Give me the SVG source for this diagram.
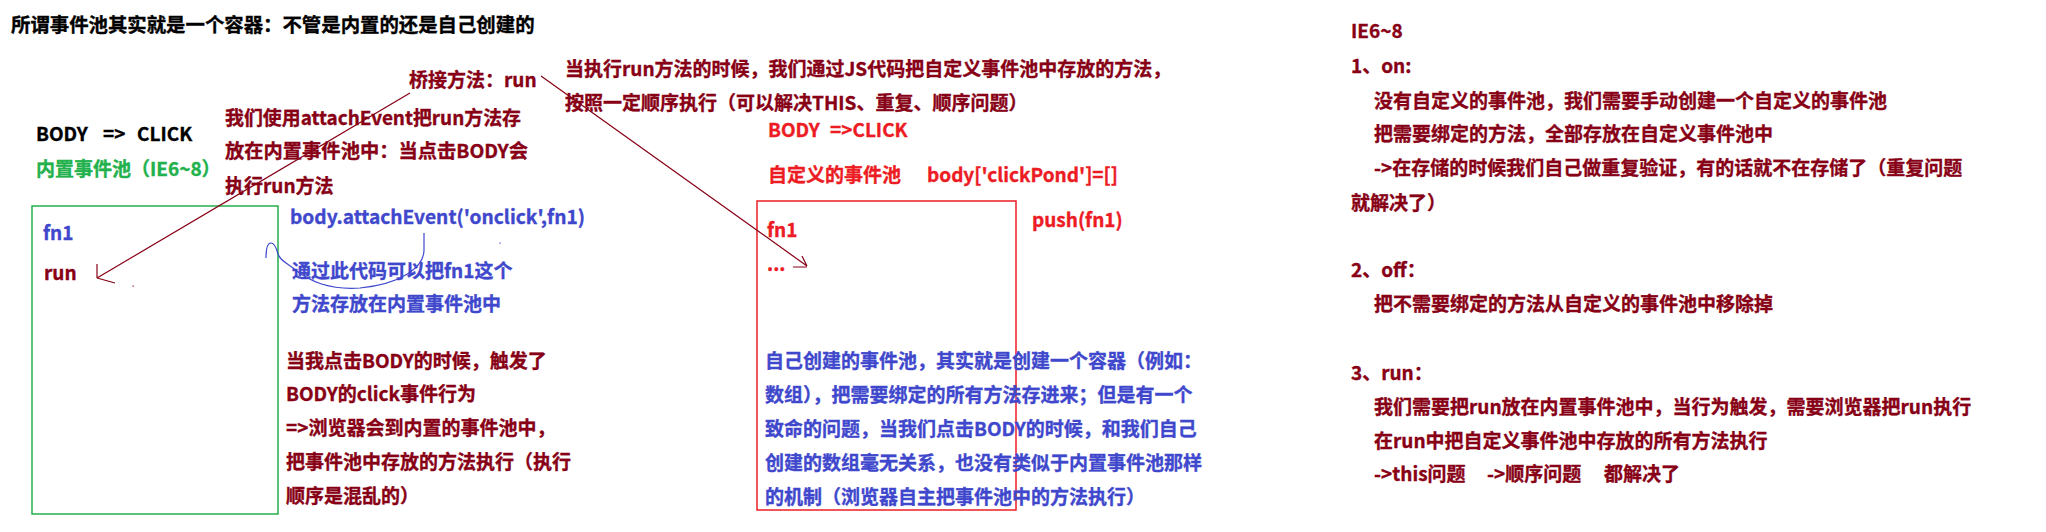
<svg xmlns="http://www.w3.org/2000/svg" width="2046" height="532" viewBox="0 0 2046 532">
<style>
text{font-family:"Noto Sans CJK SC","Noto Sans",sans-serif;font-weight:700;font-size:19px;stroke-width:0.35px}
text.k{fill:#000;stroke:#000}text.dr{fill:#880015;stroke:#880015}text.r{fill:#ed1c24;stroke:#ed1c24}text.b{fill:#3f48cc;stroke:#3f48cc}text.g{fill:#22b14c;stroke:#22b14c}
.ln{fill:none;stroke:#880015;stroke-width:1.2}
.bl{fill:none;stroke:#3f48cc;stroke-width:1.2}
.box{fill:none;stroke-width:1.5}
</style>
<rect width="2046" height="532" fill="#fff"/>

<g id="title"><text class="k" x="11" y="32" style="font-size:19.4px">所谓事件池其实就是一个容器：不管是内置的还是自己创建的</text></g>

<g id="builtin-label">
<text class="k" x="36" y="141"><tspan x="36">BODY</tspan><tspan x="103">=&gt;</tspan><tspan x="137">CLICK</tspan></text>
<text class="g" x="36" y="176">内置事件池（IE6~8）</text>
</g>

<g id="bridge"><text class="dr" x="409" y="87">桥接方法：run</text></g>

<g id="attach-note">
<text class="dr" x="225" y="125" textLength="296" lengthAdjust="spacingAndGlyphs">我们使用attachEvent把run方法存</text>
<text class="dr" x="225" y="158" textLength="303" lengthAdjust="spacingAndGlyphs">放在内置事件池中：当点击BODY会</text>
<text class="dr" x="225" y="193">执行run方法</text>
</g>

<g id="builtin-pool">
<rect class="box" x="32" y="206" width="246" height="308" stroke="#22b14c"/>
<text class="b" x="43" y="240">fn1</text>
<text class="dr" x="44" y="280">run</text>
</g>

<g id="attach-code">
<text class="b" x="290" y="224" textLength="295" lengthAdjust="spacingAndGlyphs">body.attachEvent('onclick',fn1)</text>
<text class="b" x="292" y="278">通过此代码可以把fn1这个</text>
<text class="b" x="292" y="311">方法存放在内置事件池中</text>
</g>

<g id="click-note">
<text class="dr" x="286" y="368">当我点击BODY的时候，触发了</text>
<text class="dr" x="286" y="401">BODY的click事件行为</text>
<text class="dr" x="286" y="435">=&gt;浏览器会到内置的事件池中，</text>
<text class="dr" x="286" y="469">把事件池中存放的方法执行（执行</text>
<text class="dr" x="286" y="503">顺序是混乱的）</text>
</g>

<g id="run-note">
<text class="dr" x="565" y="76">当执行run方法的时候，我们通过JS代码把自定义事件池中存放的方法，</text>
<text class="dr" x="565" y="110">按照一定顺序执行（可以解决THIS、重复、顺序问题）</text>
</g>

<g id="custom-label">
<text class="r" x="768" y="137"><tspan x="768">BODY</tspan><tspan x="830">=&gt;CLICK</tspan></text>
<text class="r" x="768" y="182"><tspan x="768">自定义的事件池</tspan><tspan x="927">body['clickPond']=[]</tspan></text>
<text class="r" x="1032" y="227">push(fn1)</text>
</g>

<g id="custom-pool">
<rect class="box" x="757" y="201" width="259" height="309" stroke="#ed1c24"/>
<text class="r" x="767" y="237">fn1</text>
<text class="r" x="767" y="271">...</text>
</g>

<g id="custom-note">
<text class="b" x="765" y="368">自己创建的事件池，其实就是创建一个容器（例如：</text>
<text class="b" x="765" y="402">数组），把需要绑定的所有方法存进来；但是有一个</text>
<text class="b" x="765" y="436">致命的问题，当我们点击BODY的时候，和我们自己</text>
<text class="b" x="765" y="470">创建的数组毫无关系，也没有类似于内置事件池那样</text>
<text class="b" x="765" y="504">的机制（浏览器自主把事件池中的方法执行）</text>
</g>

<g id="ie-summary">
<text class="dr" x="1351" y="38">IE6~8</text>
<text class="dr" x="1351" y="73">1、on:</text>
<text class="dr" x="1374" y="108">没有自定义的事件池，我们需要手动创建一个自定义的事件池</text>
<text class="dr" x="1374" y="141">把需要绑定的方法，全部存放在自定义事件池中</text>
<text class="dr" x="1374" y="175">-&gt;在存储的时候我们自己做重复验证，有的话就不在存储了（重复问题</text>
<text class="dr" x="1351" y="210">就解决了）</text>
<text class="dr" x="1351" y="277">2、off：</text>
<text class="dr" x="1374" y="311">把不需要绑定的方法从自定义的事件池中移除掉</text>
<text class="dr" x="1351" y="380">3、run：</text>
<text class="dr" x="1374" y="414">我们需要把run放在内置事件池中，当行为触发，需要浏览器把run执行</text>
<text class="dr" x="1374" y="448">在run中把自定义事件池中存放的所有方法执行</text>
<text class="dr" x="1374" y="481"><tspan x="1374">-&gt;this问题</tspan><tspan x="1487">-&gt;顺序问题</tspan><tspan x="1604">都解决了</tspan></text>
</g>

<g id="connectors">
<path class="ln" d="M410,93 L97,278 M97,278 L97,264 M97,278 L115,283"/>
<rect x="132.5" y="285.5" width="1.2" height="1.2" fill="#880015"/>
<path class="ln" d="M541,76 L807,266 M807,266 L802,256 M793,267 L807,267"/>
<path class="bl" d="M424,233 L424,250 C424,268 400,284 360,288 C330,290 310,282 293,268 C285,262 280,260 278,254 C276,246 274,243 271,243 C268,243 266,247 266,258"/>
<rect x="499.5" y="242.5" width="1.2" height="1.2" fill="#3f48cc"/>
</g>
</svg>
